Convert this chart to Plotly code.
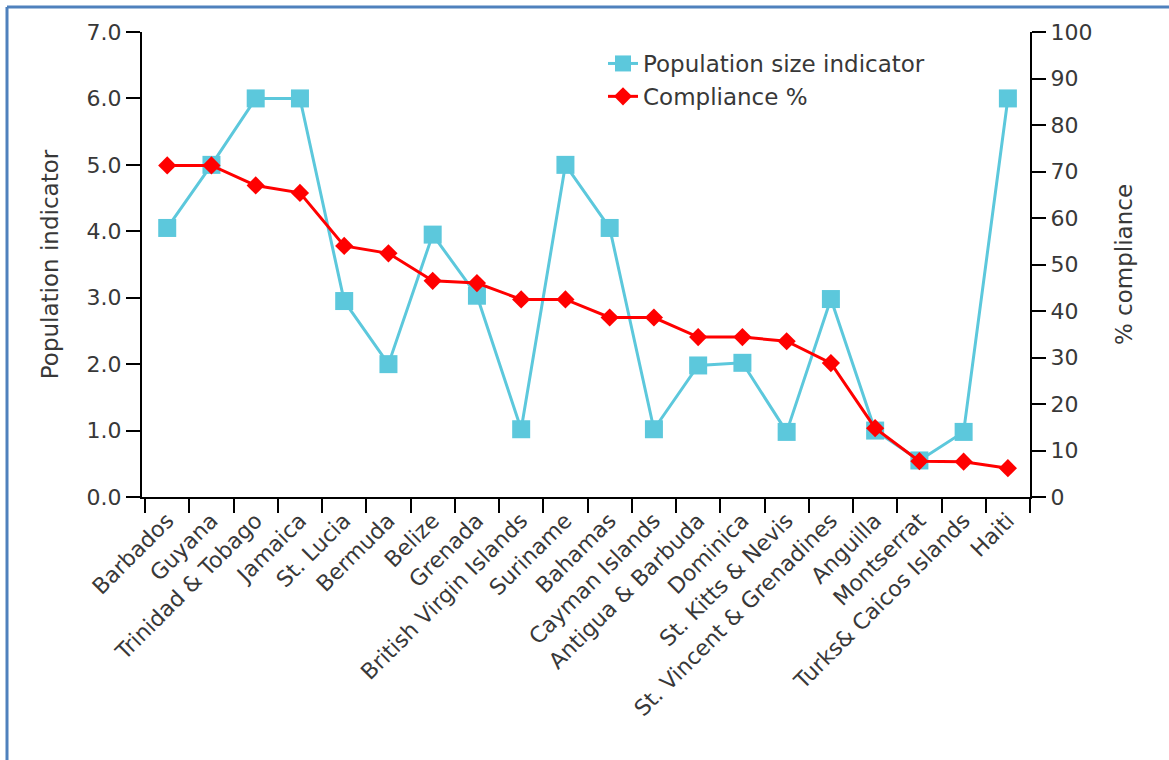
import plotly.graph_objects as go

countries = ["Barbados", "Guyana", "Trinidad & Tobago", "Jamaica", "St. Lucia", "Bermuda",
             "Belize", "Grenada", "British Virgin Islands", "Suriname", "Bahamas",
             "Cayman Islands", "Antigua & Barbuda", "Dominica", "St. Kitts & Nevis",
             "St. Vincent & Grenadines", "Anguilla", "Montserrat", "Turks& Caicos Islands", "Haiti"]
population = [4.05, 5.0, 6.0, 6.0, 2.95, 2.0, 3.95, 3.03, 1.02, 5.0, 4.05,
              1.02, 1.98, 2.02, 0.98, 2.98, 1.0, 0.55, 0.98, 6.0]
compliance = [71.3, 71.3, 67.0, 65.4, 54.0, 52.4, 46.5, 46.0, 42.5, 42.5, 38.6,
              38.6, 34.4, 34.4, 33.5, 28.8, 14.8, 7.7, 7.6, 6.2]

W, H = 1169, 760
L, R, T, B = 142, 139, 32, 263
pw, ph = W - L - R, H - T - B

fig = go.Figure()
fig.add_trace(go.Scatter(
    x=countries, y=population, name="Population size indicator", mode="lines+markers",
    line=dict(color="#5cc8dc", width=3),
    marker=dict(symbol="square", size=18, color="#5cc8dc"),
    legendgroup="a", yaxis="y"))
fig.add_trace(go.Scatter(
    x=countries, y=compliance, name="Compliance %", mode="lines+markers",
    line=dict(color="#ff0000", width=3),
    marker=dict(symbol="diamond", size=14, color="#ff0000"),
    legendgroup="b", yaxis="y2"))

font_col = "#383838"
fam = "DejaVu Sans, Verdana, sans-serif"
fig.update_layout(
    width=W, height=H,
    margin=dict(l=L, r=R, t=T, b=B, pad=0),
    paper_bgcolor="white", plot_bgcolor="white",
    font=dict(family=fam, color=font_col),
    showlegend=True,
    legend=dict(x=(603 - L) / pw, y=(497 - 42) / ph, xanchor="left", yanchor="top",
                bgcolor="rgba(0,0,0,0)", font=dict(size=23, color=font_col),
                tracegroupgap=12, traceorder="normal"),
    xaxis=dict(type="category", range=[-0.57, 19.5], showline=True, linecolor="black",
               linewidth=2, ticks="outside", tickson="boundaries", ticklen=14,
               tickwidth=2, tickcolor="black", tickangle=-45,
               tickfont=dict(size=22, color=font_col), showgrid=False, zeroline=False),
    yaxis=dict(range=[0, 7], dtick=1, tickformat=".1f", showline=True, linecolor="black",
               linewidth=2, ticks="outside", ticklen=14, tickwidth=2, tickcolor="black",
               tickfont=dict(size=22, color=font_col), showgrid=False, zeroline=False,
               title=dict(text="Population indicator", font=dict(size=23, color=font_col),
                          standoff=22)),
    yaxis2=dict(range=[0, 100], dtick=10, overlaying="y", side="right", showline=True,
                linecolor="black", linewidth=2, ticks="outside", ticklen=14, tickwidth=2,
                tickcolor="black", tickfont=dict(size=22, color=font_col), showgrid=False,
                zeroline=False,
                title=dict(text="% compliance", font=dict(size=23, color=font_col),
                           standoff=24)),
    shapes=[
        dict(type="line", xref="paper", yref="paper",
             x0=(7 - L) / pw, x1=(W + 5 - L) / pw, y0=(H - B - 7) / ph, y1=(H - B - 7) / ph,
             line=dict(color="#4f81bd", width=3)),
        dict(type="line", xref="paper", yref="paper",
             x0=(7 - L) / pw, x1=(7 - L) / pw, y0=(H - B - 7) / ph, y1=(H - B - H - 5) / ph,
             line=dict(color="#4f81bd", width=3)),
    ],
)

fig.write_html("out.html", config={"displayModeBar": False},
               post_script="document.body.style.margin='0';")
